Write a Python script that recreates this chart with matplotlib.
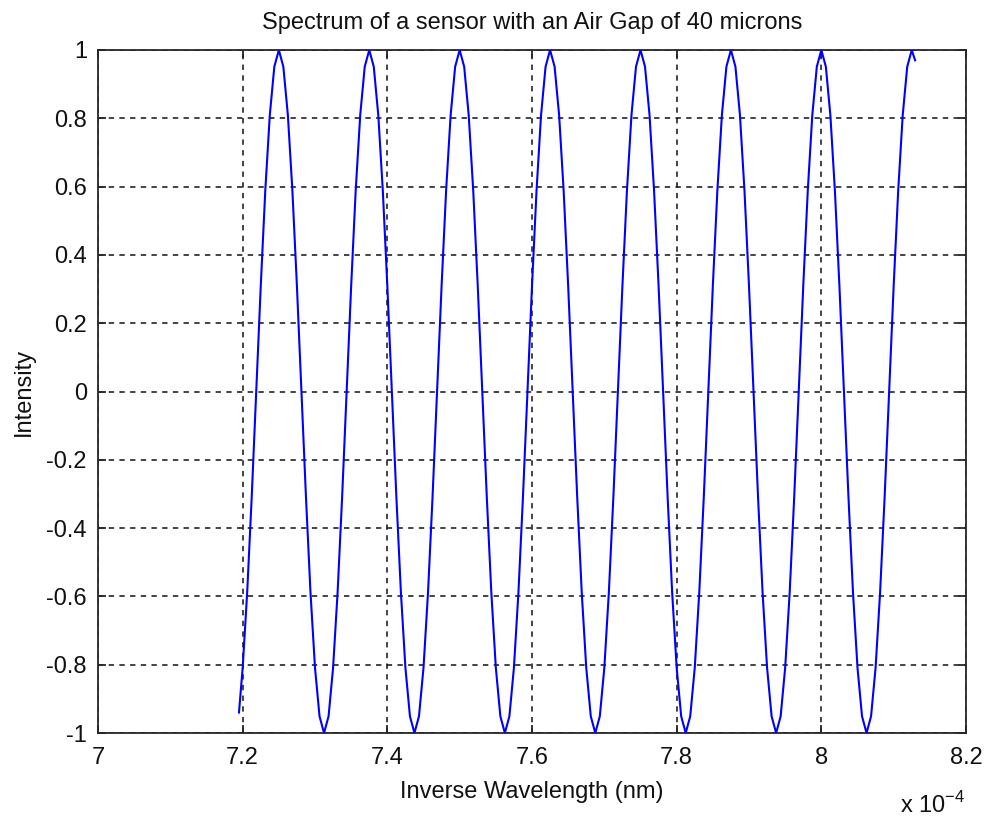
import matplotlib
matplotlib.use("Agg")
import matplotlib.pyplot as plt
from matplotlib.ticker import FixedLocator

plt.rcParams['font.family'] = ['Liberation Sans', 'DejaVu Sans']

# inverse wavelength, in units of 1e-4 nm^-1
inv_wavelength = [
    7.1949,
    7.2, 7.20625, 7.2125, 7.21875, 7.225, 7.23125, 7.2375, 7.24375,
    7.25, 7.25625, 7.2625, 7.26875, 7.275, 7.28125, 7.2875, 7.29375,
    7.3, 7.30625, 7.3125, 7.31875, 7.325, 7.33125, 7.3375, 7.34375,
    7.35, 7.35625, 7.3625, 7.36875, 7.375, 7.38125, 7.3875, 7.39375,
    7.4, 7.40625, 7.4125, 7.41875, 7.425, 7.43125, 7.4375, 7.44375,
    7.45, 7.45625, 7.4625, 7.46875, 7.475, 7.48125, 7.4875, 7.49375,
    7.5, 7.50625, 7.5125, 7.51875, 7.525, 7.53125, 7.5375, 7.54375,
    7.55, 7.55625, 7.5625, 7.56875, 7.575, 7.58125, 7.5875, 7.59375,
    7.6, 7.60625, 7.6125, 7.61875, 7.625, 7.63125, 7.6375, 7.64375,
    7.65, 7.65625, 7.6625, 7.66875, 7.675, 7.68125, 7.6875, 7.69375,
    7.7, 7.70625, 7.7125, 7.71875, 7.725, 7.73125, 7.7375, 7.74375,
    7.75, 7.75625, 7.7625, 7.76875, 7.775, 7.78125, 7.7875, 7.79375,
    7.8, 7.80625, 7.8125, 7.81875, 7.825, 7.83125, 7.8375, 7.84375,
    7.85, 7.85625, 7.8625, 7.86875, 7.875, 7.88125, 7.8875, 7.89375,
    7.9, 7.90625, 7.9125, 7.91875, 7.925, 7.93125, 7.9375, 7.94375,
    7.95, 7.95625, 7.9625, 7.96875, 7.975, 7.98125, 7.9875, 7.99375,
    8.0, 8.00625, 8.0125, 8.01875, 8.025, 8.03125, 8.0375, 8.04375,
    8.05, 8.05625, 8.0625, 8.06875, 8.075, 8.08125, 8.0875, 8.09375,
    8.1, 8.10625, 8.1125, 8.11875, 8.125,
    8.1296,
]

intensity = [
    -0.94,
    -0.809, -0.588, -0.309, 0, 0.309, 0.588, 0.809, 0.951,
    1, 0.951, 0.809, 0.588, 0.309, 0, -0.309, -0.588,
    -0.809, -0.951, -1, -0.951, -0.809, -0.588, -0.309, 0,
    0.309, 0.588, 0.809, 0.951, 1, 0.951, 0.809, 0.588,
    0.309, 0, -0.309, -0.588, -0.809, -0.951, -1, -0.951,
    -0.809, -0.588, -0.309, 0, 0.309, 0.588, 0.809, 0.951,
    1, 0.951, 0.809, 0.588, 0.309, 0, -0.309, -0.588,
    -0.809, -0.951, -1, -0.951, -0.809, -0.588, -0.309, 0,
    0.309, 0.588, 0.809, 0.951, 1, 0.951, 0.809, 0.588,
    0.309, 0, -0.309, -0.588, -0.809, -0.951, -1, -0.951,
    -0.809, -0.588, -0.309, 0, 0.309, 0.588, 0.809, 0.951,
    1, 0.951, 0.809, 0.588, 0.309, 0, -0.309, -0.588,
    -0.809, -0.951, -1, -0.951, -0.809, -0.588, -0.309, 0,
    0.309, 0.588, 0.809, 0.951, 1, 0.951, 0.809, 0.588,
    0.309, 0, -0.309, -0.588, -0.809, -0.951, -1, -0.951,
    -0.809, -0.588, -0.309, 0, 0.309, 0.588, 0.809, 0.951,
    1, 0.951, 0.809, 0.588, 0.309, 0, -0.309, -0.588,
    -0.809, -0.951, -1, -0.951, -0.809, -0.588, -0.309, 0,
    0.309, 0.588, 0.809, 0.951, 1,
    0.97,
]

x_ticks = [7.0, 7.2, 7.4, 7.6, 7.8, 8.0, 8.2]
x_tick_labels = ["7", "7.2", "7.4", "7.6", "7.8", "8", "8.2"]
y_ticks = [-1, -0.8, -0.6, -0.4, -0.2, 0, 0.2, 0.4, 0.6, 0.8, 1]
y_tick_labels = ["-1", "-0.8", "-0.6", "-0.4", "-0.2", "0", "0.2", "0.4", "0.6", "0.8", "1"]

fs = 17
axis_col = "#262626"

fig = plt.figure(figsize=(9.89, 8.18), dpi=100)
ax = fig.add_axes([98 / 989, 1 - 733 / 818, (966 - 98) / 989, (733 - 50) / 818])

ax.plot(inv_wavelength, intensity, color=(0, 0, 1), lw=1.5, zorder=3,
        solid_joinstyle="round")

ax.set_xlim(7.0, 8.2)
ax.set_ylim(-1, 1)
ax.xaxis.set_major_locator(FixedLocator(x_ticks))
ax.yaxis.set_major_locator(FixedLocator(y_ticks))
ax.set_xticklabels(x_tick_labels)
ax.set_yticklabels(y_tick_labels)

ax.tick_params(direction="in", top=True, right=True, length=6, width=1.3,
               color=axis_col, labelcolor="#111111", labelsize=fs)
ax.tick_params(axis="x", pad=10)
ax.tick_params(axis="y", pad=8)
for s in ax.spines.values():
    s.set_color(axis_col)
    s.set_linewidth(1.3)

ax.grid(True, color="#111111", linestyle=(0, (3.5, 3.5)), linewidth=1.1)
ax.set_axisbelow(True)

ax.set_title("Spectrum of a sensor with an Air Gap of 40 microns",
             fontsize=fs, pad=15, color="#111111")
ax.set_xlabel("Inverse Wavelength (nm)", fontsize=fs, labelpad=9, color="#111111")
ax.set_ylabel("Intensity", fontsize=fs, labelpad=8, color="#111111")

fig.text(900 / 989, 1 - 805 / 818, r"x 10$^{\mathregular{-4}}$", fontsize=fs,
         ha="left", va="center", color="#111111")

fig.savefig("out.png", dpi=100)
